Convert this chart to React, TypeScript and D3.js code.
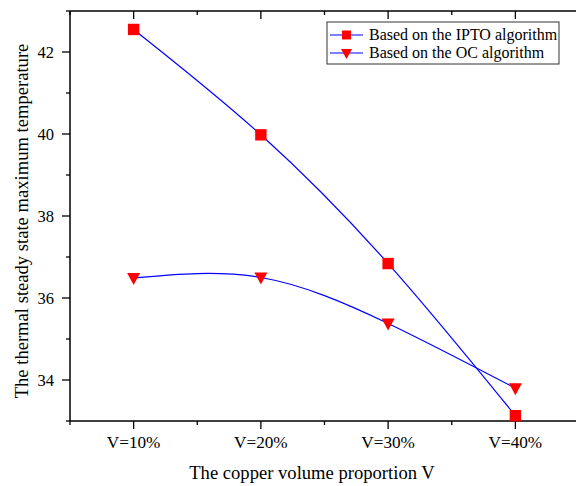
import React from 'react'
import * as d3 from 'd3'

const categories = ['V=10%', 'V=20%', 'V=30%', 'V=40%']
const iptoValues = [42.55, 39.98, 36.84, 33.13]
const ocValues = [36.49, 36.5, 35.38, 33.8]
const yTicks = [34, 36, 38, 40, 42]
const seriesNames = ['Based on the IPTO algorithm', 'Based on the OC algorithm']

const W = 576, H = 486
const margin = {top: 11, right: -3, bottom: 65, left: 70}
const font = '"Liberation Serif", "Times New Roman", serif'

export default function App() {
    const w = W - margin.left - margin.right
    const h = H - margin.top - margin.bottom

    const x = d3.scaleLinear().domain([-0.5, 3.5]).range([0, w])
    const y = d3.scaleLinear().domain([33, 43]).range([h, 0])

    const line = d3.line<number>()
        .x((d, i) => x(i))
        .y(d => y(d))
        .curve(d3.curveNatural)

    const minorX = d3.range(-0.5, 3.6, 1)
    const minorY = d3.range(33, 43.1, 2)

    const square = d3.symbol().type(d3.symbolSquare).size(130)()
    const tri = 'M-6.5,-5 L6.5,-5 L0,7 Z'

    return (
        <svg width={W} height={H} style={{position: 'absolute', left: 0, top: 0}} fontFamily={font}>
            <g transform={'translate(' + margin.left + ',' + margin.top + ')'}>
                {/* axes frame */}
                <line x1={0} x2={w} y1={h} y2={h} stroke="#000" strokeWidth={1.5} />
                <line x1={0} x2={w} y1={0} y2={0} stroke="#000" strokeWidth={1.5} />
                <line x1={0} x2={0} y1={0} y2={h} stroke="#000" strokeWidth={1.5} />

                {/* x ticks */}
                {categories.map((c, i) => (
                    <g key={c}>
                        <line x1={x(i)} x2={x(i)} y1={h} y2={h + 8} stroke="#000" strokeWidth={1.3} />
                        <line x1={x(i)} x2={x(i)} y1={0} y2={8} stroke="#000" strokeWidth={1.3} />
                        <text x={x(i)} y={h + 27} textAnchor="middle" fontSize={17.2}>{c}</text>
                    </g>
                ))}
                {minorX.map(v => (
                    <g key={'mx' + v}>
                        <line x1={x(v)} x2={x(v)} y1={h} y2={h + 4} stroke="#000" strokeWidth={1.3} />
                        <line x1={x(v)} x2={x(v)} y1={0} y2={4} stroke="#000" strokeWidth={1.3} />
                    </g>
                ))}

                {/* y ticks */}
                {yTicks.map(t => (
                    <g key={t}>
                        <line x1={-8} x2={0} y1={y(t)} y2={y(t)} stroke="#000" strokeWidth={1.3} />
                        <text x={-16} y={y(t) + 5.5} textAnchor="end" fontSize={16.5}>{t}</text>
                    </g>
                ))}
                {minorY.map(v => (
                    <line key={'my' + v} x1={-4} x2={0} y1={y(v)} y2={y(v)} stroke="#000" strokeWidth={1.3} />
                ))}

                {/* curves */}
                <path d={line(iptoValues) || ''} fill="none" stroke="#0000ff" strokeWidth={1.2} />
                <path d={line(ocValues) || ''} fill="none" stroke="#0000ff" strokeWidth={1.2} />

                {iptoValues.map((v, i) => (
                    <path key={'s' + i} d={square || ''} transform={'translate(' + x(i) + ',' + y(v) + ')'} fill="#ff0000" />
                ))}
                {ocValues.map((v, i) => (
                    <path key={'t' + i} d={tri} transform={'translate(' + x(i) + ',' + y(v) + ')'} fill="#ff0000" />
                ))}
            </g>

            {/* axis titles */}
            <text x={312} y={479} textAnchor="middle" fontSize={18.6}>The copper volume proportion V</text>
            <text transform="translate(28,221) rotate(-90)" textAnchor="middle" fontSize={18.6}>
                The thermal steady state maximum temperature
            </text>

            {/* legend */}
            <g transform="translate(327,22)">
                <rect x={0} y={0} width={232} height={42} fill="#fff" stroke="#333" strokeWidth={1} />
                {seriesNames.map((s, i) => (
                    <g key={s} transform={'translate(0,' + (13 + i * 18) + ')'}>
                        <line x1={3} x2={36} y1={0} y2={0} stroke="#0000ff" strokeWidth={1.2} />
                        {i === 0
                            ? <path d={d3.symbol().type(d3.symbolSquare).size(80)() || ''} transform="translate(19.5,0)" fill="#ff0000" />
                            : <path d="M-5.5,-4 L5.5,-4 L0,6 Z" transform="translate(19.5,0)" fill="#ff0000" />}
                        <text x={42} y={5} fontSize={16}>{s}</text>
                    </g>
                ))}
            </g>
        </svg>
    )
}
